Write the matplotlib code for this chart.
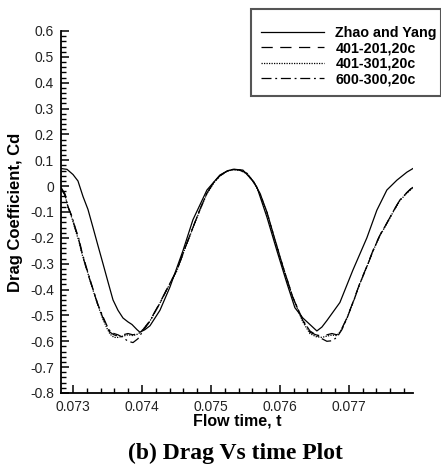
import matplotlib
matplotlib.use("Agg")
import matplotlib.pyplot as plt
from matplotlib.patches import Rectangle
from matplotlib.ticker import MultipleLocator, FixedLocator

# Flow time samples (s) and drag coefficients
t_zhao = [0.072826, 0.072913, 0.073000, 0.073072, 0.073145, 0.073217, 0.073290,
          0.073362, 0.073435, 0.073507, 0.073580, 0.073652, 0.073725, 0.073797,
          0.073855, 0.073928, 0.073971, 0.074043, 0.074116, 0.074261, 0.074406,
          0.074594, 0.074739, 0.074942, 0.075130, 0.075246, 0.075348, 0.075464,
          0.075609, 0.075667, 0.075812, 0.075957, 0.076101, 0.076217, 0.076333,
          0.076435, 0.076536, 0.076609, 0.076681, 0.076870, 0.077058, 0.077261,
          0.077406, 0.077551, 0.077696, 0.077841, 0.077928]
cd_zhao = [0.068, 0.065, 0.045, 0.020, -0.040, -0.090, -0.160, -0.230, -0.300,
           -0.370, -0.440, -0.480, -0.510, -0.525, -0.535, -0.555, -0.565, -0.555,
           -0.540, -0.480, -0.390, -0.250, -0.130, -0.015, 0.043, 0.060, 0.065,
           0.062, 0.020, -0.004, -0.120, -0.250, -0.375, -0.470, -0.510, -0.535,
           -0.560, -0.545, -0.520, -0.450, -0.325, -0.200, -0.093, -0.015, 0.023,
           0.054, 0.068]

t_401_201 = [0.072826, 0.072884, 0.072928, 0.072986, 0.073029, 0.073087, 0.073130,
             0.073217, 0.073290, 0.073362, 0.073435, 0.073493, 0.073536, 0.073594,
             0.073652, 0.073725, 0.073797, 0.073870, 0.073942, 0.074014, 0.074116,
             0.074261, 0.074377, 0.074507, 0.074623, 0.074739, 0.074841, 0.074942,
             0.075043, 0.075130, 0.075232, 0.075319, 0.075420, 0.075522, 0.075623,
             0.075710, 0.075812, 0.075899, 0.076043, 0.076188, 0.076333, 0.076435,
             0.076522, 0.076609, 0.076681, 0.076754, 0.076826, 0.076899, 0.076971,
             0.077072, 0.077159, 0.077261, 0.077348, 0.077449, 0.077551, 0.077638,
             0.077739, 0.077841, 0.077928]
cd_401_201 = [-0.005, -0.030, -0.080, -0.120, -0.160, -0.210, -0.260, -0.340, -0.400,
              -0.460, -0.510, -0.545, -0.565, -0.575, -0.580, -0.575, -0.570, -0.575,
              -0.570, -0.555, -0.520, -0.450, -0.390, -0.325, -0.240, -0.160, -0.090,
              -0.027, 0.015, 0.040, 0.058, 0.065, 0.062, 0.050, 0.015, -0.027, -0.100,
              -0.180, -0.310, -0.430, -0.520, -0.565, -0.575, -0.580, -0.575, -0.570,
              -0.575, -0.550, -0.510, -0.440, -0.375, -0.310, -0.250, -0.190, -0.143,
              -0.100, -0.054, -0.025, -0.004]

cd_401_301 = [-0.008, -0.035, -0.082, -0.125, -0.165, -0.215, -0.262, -0.338, -0.402,
              -0.462, -0.515, -0.550, -0.572, -0.585, -0.585, -0.580, -0.575, -0.578,
              -0.572, -0.556, -0.522, -0.452, -0.392, -0.327, -0.242, -0.162, -0.092,
              -0.029, 0.013, 0.040, 0.057, 0.064, 0.061, 0.048, 0.013, -0.030, -0.104,
              -0.184, -0.314, -0.433, -0.525, -0.570, -0.582, -0.585, -0.580, -0.576,
              -0.578, -0.553, -0.512, -0.442, -0.377, -0.312, -0.252, -0.192, -0.145,
              -0.102, -0.056, -0.027, -0.006]

cd_600_300 = [-0.010, -0.035, -0.080, -0.118, -0.158, -0.205, -0.255, -0.335, -0.398,
              -0.458, -0.505, -0.540, -0.560, -0.570, -0.575, -0.585, -0.600, -0.605,
              -0.590, -0.560, -0.522, -0.452, -0.390, -0.325, -0.240, -0.160, -0.090,
              -0.027, 0.015, 0.040, 0.058, 0.065, 0.062, 0.050, 0.015, -0.027, -0.100,
              -0.180, -0.310, -0.430, -0.518, -0.560, -0.575, -0.590, -0.600, -0.598,
              -0.585, -0.555, -0.512, -0.442, -0.377, -0.312, -0.252, -0.190, -0.143,
              -0.100, -0.054, -0.025, -0.002]

series_labels = ["Zhao and Yang", "401-201,20c", "401-301,20c", "600-300,20c"]
x_ticks = [0.073, 0.074, 0.075, 0.076, 0.077]
y_ticks = [-0.8, -0.7, -0.6, -0.5, -0.4, -0.3, -0.2, -0.1, 0, 0.1, 0.2, 0.3, 0.4, 0.5, 0.6]

W, H = 441, 467
fig = plt.figure(figsize=(W / 100, H / 100), dpi=100)
ax = fig.add_axes([61 / W, 1 - 393 / H, (413 - 61) / W, (393 - 31) / H])

lw = 0.9
ax.plot(t_zhao, cd_zhao, color="black", lw=lw, ls="-", label=series_labels[0])
ax.plot(t_401_201, cd_401_201, color="black", lw=lw, ls=(0, (9, 6)), label=series_labels[1])
ax.plot(t_401_201, cd_401_301, color="black", lw=lw, ls=(0, (1, 1)), label=series_labels[2])
ax.plot(t_401_201, cd_600_300, color="black", lw=lw, ls=(0, (8, 3, 1.5, 3)), label=series_labels[3])

ax.set_xlim(0.072826, 0.077930)
ax.set_ylim(-0.8, 0.6)

for side in ("top", "right"):
    ax.spines[side].set_visible(False)
for side in ("left", "bottom"):
    ax.spines[side].set_linewidth(1.3)
    ax.spines[side].set_color("black")

ax.xaxis.set_major_locator(FixedLocator(x_ticks))
ax.xaxis.set_minor_locator(MultipleLocator(0.0002))
ax.yaxis.set_major_locator(FixedLocator(y_ticks))
ax.yaxis.set_minor_locator(MultipleLocator(0.02))
ax.set_xticklabels([f"{v:.3f}" for v in x_ticks])
ax.set_yticklabels(["-0.8", "-0.7", "-0.6", "-0.5", "-0.4", "-0.3", "-0.2", "-0.1",
                    "0", "0.1", "0.2", "0.3", "0.4", "0.5", "0.6"])

ax.tick_params(axis="both", which="major", direction="in", length=6, width=1.1,
               labelsize=10, labelcolor="#222222")
ax.tick_params(axis="both", which="minor", direction="in", length=3.5, width=1.0)
ax.tick_params(axis="x", which="major", pad=5)
ax.tick_params(axis="y", which="major", pad=5)

font_sans = "Liberation Sans"
for lab in ax.get_xticklabels() + ax.get_yticklabels():
    lab.set_fontfamily(font_sans)

ax.set_xlabel("Flow time, t", fontsize=11.5, fontweight="bold", family=font_sans, labelpad=0)
ax.set_ylabel("Drag Coefficient, Cd", fontsize=12, fontweight="bold", family=font_sans, labelpad=5)

# legend entries without frame; the box is drawn separately
leg = ax.legend(loc="upper left", bbox_to_anchor=(261 / W, 1 - 26 / H),
                bbox_transform=fig.transFigure, frameon=False,
                handlelength=4.4, handletextpad=0.8, labelspacing=0.1,
                borderpad=0, borderaxespad=0,
                prop={"family": font_sans, "weight": "bold", "size": 10.3})
for line in leg.get_lines():
    line.set_linewidth(0.9)

fig.patches.append(Rectangle((251 / W, 1 - 96 / H), (441 - 251) / W, (96 - 9.5) / H,
                             transform=fig.transFigure, fill=False,
                             edgecolor="#555555", linewidth=1.5))

fig.text(0.534, 1 - 453 / H, "(b) Drag Vs time Plot", ha="center", va="center",
         fontsize=17, fontweight="bold", family="Liberation Serif")

fig.savefig("out.png", dpi=100)
